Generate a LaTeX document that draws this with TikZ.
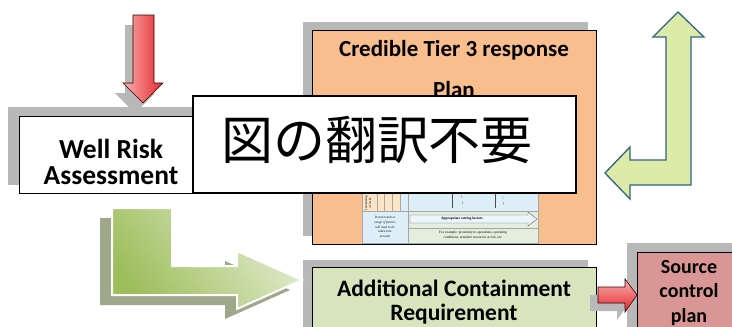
\documentclass[tikz,border=0pt]{standalone}
\usepackage{fontspec}
\setmainfont{Carlito}
\newfontfamily\cjk{Noto Sans CJK JP}
\newfontfamily\smallserif{Liberation Serif}
\definecolor{orangeC}{RGB}{249,190,141}
\definecolor{greenC}{RGB}{216,228,189}
\definecolor{roseC}{RGB}{217,150,148}
\definecolor{shadowC}{RGB}{184,184,184}
\definecolor{oliveShadow}{RGB}{160,168,140}
\definecolor{lArrowFill}{RGB}{220,235,168}
\definecolor{lArrowLine}{RGB}{47,100,130}
\definecolor{pinkL}{RGB}{250,175,175}
\definecolor{redD}{RGB}{228,40,45}
\definecolor{beigeC}{RGB}{252,228,196}
\definecolor{blueC}{RGB}{222,238,248}
\definecolor{paleGreen}{RGB}{228,238,220}
\definecolor{gArrowDark}{RGB}{158,190,92}
\definecolor{gArrowLight}{RGB}{226,236,208}
\begin{document}
\begin{tikzpicture}[x=1pt,y=-1pt,
  shadowfill/.style={fill=shadowC},
  box/.style={draw=black, line width=0.8pt},
  lbl/.style={font=\bfseries\fontsize{23}{23}\selectfont, align=center, inner sep=0pt},
  redarrow/.style={draw=black!80!red, line width=0.6pt},
  tinytxt/.style={font=\smallserif\fontsize{3.4}{4}\selectfont, align=center, inner sep=0pt}]
\useasboundingbox (0,0) rectangle (732,327);

% ---------- Well Risk Assessment ----------
\fill[shadowfill] (8,107) rectangle (200,185);
\draw[box, fill=white] (19,116) rectangle (200,193);
\node[lbl, font=\bfseries\fontsize{27.5}{25.5}\selectfont] (wra) at (111,162) {Well Risk\\Assessment};

% red down arrow
\fill[shadowfill] (125,25) -- (146,25) -- (146,93) -- (155,93) -- (135,113) -- (115,93) -- (125,93) -- cycle;
\draw[redarrow, left color=pinkL, right color=redD] (133,15) -- (154,15) -- (154,83) -- (163,83) -- (143,103) -- (123,83) -- (133,83) -- cycle;

% ---------- Credible Tier 3 response plan ----------
\fill[shadowfill] (303,22) rectangle (588,236);
\draw[box, fill=orangeC] (312,30) rectangle (596,244);
\node[lbl] (ct1) at (454,50) {Credible Tier 3 response};
\node[lbl] (ct2) at (454,90) {Plan};

% embedded picture
\fill[beigeC] (362,175) rectangle (400,211);
\fill[blueC] (400,175) rectangle (538,211);
\draw[gray!70, line width=0.4pt] (377,175) -- (377,211) (384,175) -- (384,211) (392,175) -- (392,211) (400,175) -- (400,211) (408,175) -- (408,211);
\draw[black!70, line width=0.4pt] (452,175) -- (452,208) (495,175) -- (495,208);
\draw[gray, dashed, line width=0.35pt] (455,185) .. controls (462,195) .. (463,208);
\draw[gray, dashed, line width=0.35pt] (498,185) .. controls (503,195) .. (504,208);
\node[tinytxt, rotate=90] (vt1) at (368,203) {Increasing\\of risks};
\node[tinytxt, font=\smallserif\bfseries\fontsize{3.4}{4}\selectfont] (tier) at (420,193) {Tier 1};
\fill[blueC] (362,211) rectangle (408,243);
\fill[paleGreen] (408,211) rectangle (538,243);
\draw[gray!70, line width=0.4pt] (362,211) -- (538,211) (408,211) -- (408,243) (408,228) -- (538,228) (362,175) rectangle (538,243);
\draw[gray!80!black, fill=blueC!60!white, line width=0.4pt] (410,215) -- (528,215) -- (528,212) -- (537,219) -- (528,226) -- (528,223) -- (410,223) -- cycle;
\node[tinytxt, font=\smallserif\bfseries\fontsize{3.6}{4}\selectfont] (asf) at (462,219) {Appropriate setting factors};
\node[tinytxt, font=\smallserif\itshape\fontsize{3.3}{4.6}\selectfont] (imc) at (385,227) {In most cases a\\range of factors\\will need to be\\taken into\\account};
\node[tinytxt, font=\smallserif\fontsize{3.5}{4.8}\selectfont] (fex) at (473,235) {For example: proximity to operations, operating\\conditions, sensitive resources at risk, etc.};

% ---------- Additional Containment Requirement ----------
\fill[shadowfill] (303,260) rectangle (588,330);
\draw[box, fill=greenC] (312,267) rectangle (596,335);
\node[lbl, font=\bfseries\fontsize{23.5}{23.5}\selectfont] (acr1) at (454,288) {Additional Containment};
\node[lbl, font=\bfseries\fontsize{23.5}{23.5}\selectfont] (acr2) at (454,314) {Requirement};

% ---------- Source control plan ----------
\fill[shadowfill] (627,243) rectangle (735,330);
\draw[box, fill=roseC] (637,252) rectangle (740,335);
\node[lbl, font=\bfseries\fontsize{20}{24.5}\selectfont] (scp) at (689,293) {Source\\control\\plan};

% small red arrow
\fill[shadowfill] (590,295) -- (617,295) -- (617,287) -- (629,303) -- (617,320) -- (617,311) -- (590,311) -- cycle;
\draw[redarrow, top color=pinkL, bottom color=redD] (598,287) -- (625,287) -- (625,279) -- (637,295) -- (625,312) -- (625,303) -- (598,303) -- cycle;

% ---------- big green L arrow ----------
\fill[oliveShadow] (100,218) -- (160,218) -- (160,276) -- (225,276) -- (225,261) -- (290,290) -- (225,319) -- (225,305) -- (100,305) -- cycle;
\draw[white, line width=2pt, left color=gArrowDark, right color=gArrowLight, shading angle=125]
  (112,208) -- (172,208) -- (172,266) -- (237,266) -- (237,251) -- (302,280) -- (237,309) -- (237,295) -- (112,295) -- cycle;

% ---------- right L arrow ----------
\draw[lArrowLine, line width=1.3pt, fill=lArrowFill]
  (678,12) -- (704,37) -- (691,37) -- (691,185) -- (630,185) -- (630,199) -- (605,173) -- (630,147) -- (630,160) -- (666,160) -- (666,37) -- (653,37) -- cycle;

% ---------- overlay ----------
\draw[black, line width=1.3pt, fill=white] (193,96) rectangle (576,193);
\node[inner sep=0pt, font=\cjk\fontsize{52}{52}\selectfont] (ov) at (377,140) {図の翻訳不要};
\end{tikzpicture}
\end{document}
